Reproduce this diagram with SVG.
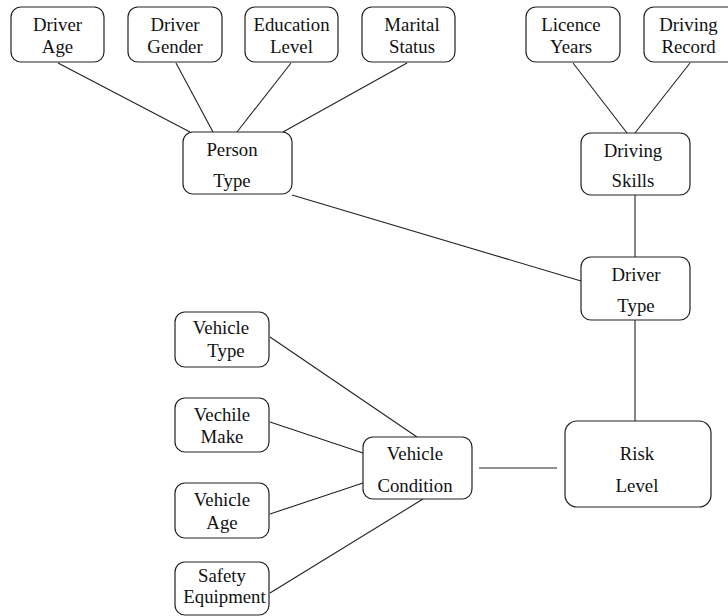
<svg xmlns="http://www.w3.org/2000/svg" width="728" height="616" viewBox="0 0 728 616">
<style>
.box{fill:#fff;stroke:#222;stroke-width:1.2}
.lbl{font-family:"Liberation Serif","Times New Roman",serif;font-size:18.8px;fill:#111;text-anchor:middle}
.edge{stroke:#222;stroke-width:1.1;fill:none}
</style>
<rect width="728" height="616" fill="#fff"/>
<g id="connectors">
<line class="edge" x1="58" y1="63" x2="190" y2="132"/>
<line class="edge" x1="176" y1="63" x2="213" y2="132"/>
<line class="edge" x1="291" y1="63" x2="237" y2="132"/>
<line class="edge" x1="407" y1="63" x2="283" y2="132"/>
<line class="edge" x1="573" y1="63" x2="627" y2="133"/>
<line class="edge" x1="690" y1="63" x2="635" y2="133"/>
<line class="edge" x1="635" y1="195" x2="635" y2="257"/>
<line class="edge" x1="292" y1="195" x2="581" y2="281"/>
<line class="edge" x1="635" y1="320" x2="635" y2="421"/>
<line class="edge" x1="479" y1="468" x2="557" y2="468"/>
<line class="edge" x1="270" y1="337" x2="417" y2="437"/>
<line class="edge" x1="270" y1="422" x2="363" y2="453"/>
<line class="edge" x1="270" y1="514" x2="363" y2="483"/>
<line class="edge" x1="270" y1="593" x2="423" y2="499"/>
</g>
<g id="driver-age"><rect class="box" x="11" y="7" width="93" height="55" rx="10"/><text class="lbl" x="57.5" y="31">Driver</text><text class="lbl" x="57.5" y="53">Age</text></g>
<g id="driver-gender"><rect class="box" x="128" y="7" width="94" height="55" rx="10"/><text class="lbl" x="175" y="31">Driver</text><text class="lbl" x="175" y="53">Gender</text></g>
<g id="education-level"><rect class="box" x="245" y="7" width="93" height="55" rx="10"/><text class="lbl" x="291.5" y="31">Education</text><text class="lbl" x="291.5" y="53">Level</text></g>
<g id="marital-status"><rect class="box" x="362" y="7" width="93" height="55" rx="10"/><text class="lbl" x="412" y="31">Marital</text><text class="lbl" x="412" y="53">Status</text></g>
<g id="licence-years"><rect class="box" x="526" y="7" width="94" height="55" rx="10"/><text class="lbl" x="571" y="31">Licence</text><text class="lbl" x="571" y="53">Years</text></g>
<g id="driving-record"><rect class="box" x="644" y="7" width="94" height="55" rx="10"/><text class="lbl" x="688.5" y="31">Driving</text><text class="lbl" x="688.5" y="53">Record</text></g>
<g id="person-type"><rect class="box" x="183" y="132" width="109" height="62" rx="10"/><text class="lbl" x="232" y="156">Person</text><text class="lbl" x="232" y="187">Type</text></g>
<g id="driving-skills"><rect class="box" x="581" y="133" width="109" height="62" rx="10"/><text class="lbl" x="633" y="157">Driving</text><text class="lbl" x="633" y="187">Skills</text></g>
<g id="driver-type"><rect class="box" x="581" y="257" width="109" height="63" rx="10"/><text class="lbl" x="636" y="281">Driver</text><text class="lbl" x="636" y="312">Type</text></g>
<g id="vehicle-type"><rect class="box" x="175" y="312" width="94" height="55" rx="10"/><text class="lbl" x="221" y="334">Vehicle</text><text class="lbl" x="226" y="357">Type</text></g>
<g id="vechile-make"><rect class="box" x="175" y="398" width="94" height="54" rx="10"/><text class="lbl" x="222" y="421">Vechile</text><text class="lbl" x="222" y="443">Make</text></g>
<g id="vehicle-age"><rect class="box" x="175" y="483" width="94" height="55" rx="10"/><text class="lbl" x="222" y="506">Vehicle</text><text class="lbl" x="222" y="529">Age</text></g>
<g id="safety-equipment"><rect class="box" x="175" y="562" width="94" height="53" rx="10"/><text class="lbl" x="222" y="582">Safety</text><text class="lbl" x="224.5" y="603">Equipment</text></g>
<g id="vehicle-condition"><rect class="box" x="363" y="437" width="109" height="62" rx="10"/><text class="lbl" x="415" y="460">Vehicle</text><text class="lbl" x="415" y="492">Condition</text></g>
<g id="risk-level"><rect class="box" x="565" y="421" width="146" height="86" rx="12"/><text class="lbl" x="637" y="460">Risk</text><text class="lbl" x="637" y="492">Level</text></g>
</svg>
